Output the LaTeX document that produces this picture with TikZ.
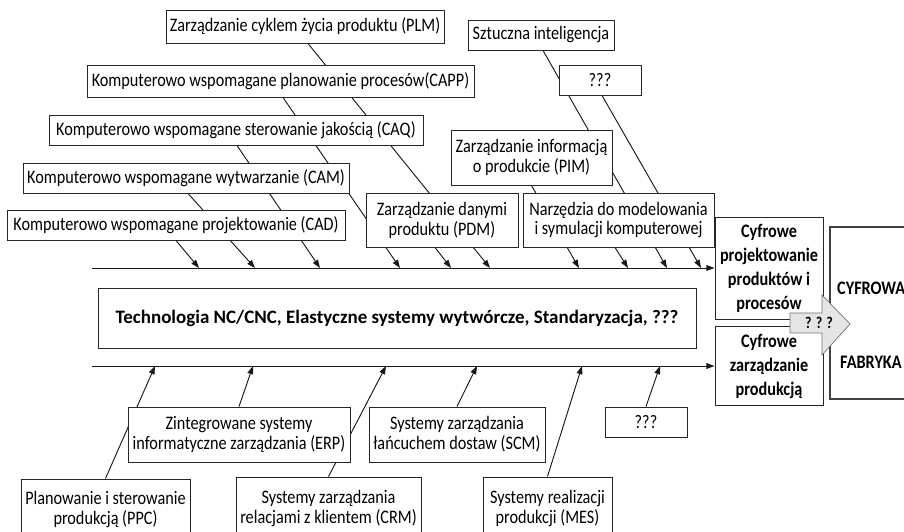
\documentclass[tikz,border=0pt]{standalone}
\usepackage{fontspec}
\setmainfont{Carlito}[FakeStretch=0.85]
\newfontfamily\widefont{Carlito}
\usetikzlibrary{arrows.meta,backgrounds}
\begin{document}
\begin{tikzpicture}[font=\fontsize{16.3pt}{17pt}\selectfont,
	box/.style={draw=black!85, fill=white, line width=0.8pt, align=center, inner sep=0pt},
	boldbox/.style={box, font=\fontsize{16.3pt}{20.5pt}\selectfont\bfseries},
	bone/.style={draw=black!90, line width=0.8pt, -{Triangle[length=7pt,width=5pt]}}]
	\useasboundingbox (0,0) rectangle (27.12,15.96);
	\node[box, minimum width=8.34cm, minimum height=0.99cm] (plm) at (9.15,15.165) {Zarządzanie cyklem życia produktu (PLM)};
	\node[box, minimum width=4.38cm, minimum height=0.90cm] (si) at (16.23,14.91) {Sztuczna inteligencja};
	\node[box, minimum width=11.61cm, minimum height=0.96cm] (capp) at (8.415,13.53) {Komputerowo wspomagane planowanie procesów(CAPP)};
	\node[box, minimum width=2.46cm, minimum height=0.90cm] (q1) at (18.0,13.56) {???};
	\node[box, minimum width=11.22cm, minimum height=0.90cm] (caq) at (7.08,12.06) {Komputerowo wspomagane sterowanie jakością (CAQ)};
	\node[box, minimum width=4.83cm, minimum height=1.65cm] (pim) at (15.945,11.235) {Zarządzanie informacją\\o produkcie (PIM)};
	\node[box, minimum width=9.78cm, minimum height=0.90cm] (cam) at (5.58,10.62) {Komputerowo wspomagane wytwarzanie (CAM)};
	\node[box, minimum width=4.56cm, minimum height=1.62cm] (pdm) at (13.26,9.36) {Zarządzanie danymi\\produktu (PDM)};
	\node[box, minimum width=10.14cm, minimum height=0.90cm] (cad) at (5.28,9.21) {Komputerowo wspomagane projektowanie (CAD)};
	\node[box, minimum width=5.73cm, minimum height=1.62cm] (narz) at (18.555,9.36) {Narzędzia do modelowania\\i symulacji komputerowej};

	\node[box, minimum width=17.94cm, minimum height=1.80cm, font=\widefont\fontsize{16.2pt}{19pt}\selectfont\bfseries] (tech) at (11.91,6.42) {Technologia NC/CNC, Elastyczne systemy wytwórcze, Standaryzacja, ???};

	\node[box, minimum width=6.66cm, minimum height=1.65cm] (erp) at (7.17,2.925) {Zintegrowane systemy\\informatyczne zarządzania (ERP)};
	\node[box, minimum width=5.28cm, minimum height=1.65cm] (scm) at (13.71,2.925) {Systemy zarządzania\\łańcuchem dostaw (SCM)};
	\node[box, minimum width=2.46cm, minimum height=0.90cm] (q2) at (19.38,3.30) {???};
	\node[box, minimum width=5.07cm, minimum height=1.83cm] (ppc) at (3.165,0.675) {Planowanie i sterowanie\\produkcją (PPC)};
	\node[box, minimum width=5.55cm, minimum height=1.89cm] (crm) at (9.855,0.705) {Systemy zarządzania\\relacjami z klientem (CRM)};
	\node[box, minimum width=3.87cm, minimum height=1.89cm] (mes) at (16.425,0.705) {Systemy realizacji\\produkcji (MES)};

	\node[boldbox, minimum width=3.24cm, minimum height=3.06cm] (cpp) at (23.07,7.92) {Cyfrowe\\projektowanie\\produktów i\\procesów};
	\node[boldbox, minimum width=3.24cm, minimum height=2.37cm] (czp) at (23.07,4.98) {Cyfrowe\\zarządzanie\\produkcją};
	\node[box, draw=black!75, line width=2.5pt, minimum width=3.9cm, minimum height=5.16cm] (fab) at (26.85,6.57) {};
	\node[anchor=west, inner sep=0pt, font=\fontsize{16.3pt}{17pt}\selectfont\bfseries] (cyfrowa) at (25.11,7.32) {CYFROWA};
	\node[anchor=west, inner sep=0pt, font=\fontsize{16.3pt}{17pt}\selectfont\bfseries] (fabryka) at (25.2,5.10) {FABRYKA};
	\draw[draw=black!55, fill=black!10, line width=0.6pt] (23.7,6.57) -- (24.66,6.57) -- (24.66,7.11) -- (25.5,6.24) -- (24.66,5.31) -- (24.66,5.97) -- (23.7,5.97) -- cycle;
	\node[font=\fontsize{14pt}{15pt}\selectfont\bfseries] (qq) at (24.57,6.27) {? ? ?};

	\coordinate (s1) at (2.76,7.92); \coordinate (s2) at (2.76,4.98);
	\coordinate (t1) at (5.97,7.92); \coordinate (t2) at (7.65,7.92); \coordinate (t3) at (9.60,7.92);
	\coordinate (t4) at (12.00,7.92); \coordinate (t5) at (13.53,7.92); \coordinate (t6) at (14.70,7.92);
	\coordinate (t7) at (17.37,7.92); \coordinate (t8) at (18.84,7.92); \coordinate (t9) at (20.01,7.92);
	\coordinate (t10) at (21.03,7.92);
	\coordinate (b1) at (4.65,4.98); \coordinate (b2) at (7.59,4.98); \coordinate (b3) at (11.58,4.98);
	\coordinate (b4) at (14.31,4.98); \coordinate (b5) at (17.46,4.98); \coordinate (b6) at (19.80,4.98);

	\begin{scope}[on background layer]
	\draw[bone] (s1) -- (cpp.west); \draw[bone] (s2) -- (czp.west);
	\draw[bone] (cad.south) -- (t1); \draw[bone] ([xshift=0.06cm]cam.south) -- (t2);
	\draw[bone] ([xshift=0.03cm]caq.south) -- (t3); \draw[bone] ([xshift=0.075cm]capp.south) -- (t4);
	\draw[bone] ([xshift=-0.21cm]pdm.south) -- (t5); \draw[bone] ([xshift=0.09cm]plm.south) -- (t6);
	\draw[bone] (pim.south) -- (t7); \draw[bone] ([xshift=-0.105cm]narz.south) -- (t8);
	\draw[bone] ([xshift=0.06cm]si.south) -- (t9); \draw[bone] ([xshift=0.06cm]q1.south) -- (t10);
	\draw[bone] (ppc.north) -- (b1); \draw[bone] (erp.north) -- (b2); \draw[bone] (crm.north) -- (b3);
	\draw[bone] (scm.north) -- (b4); \draw[bone] (mes.north) -- (b5); \draw[bone] (q2.north) -- (b6);
	\end{scope}
\end{tikzpicture}
\end{document}
